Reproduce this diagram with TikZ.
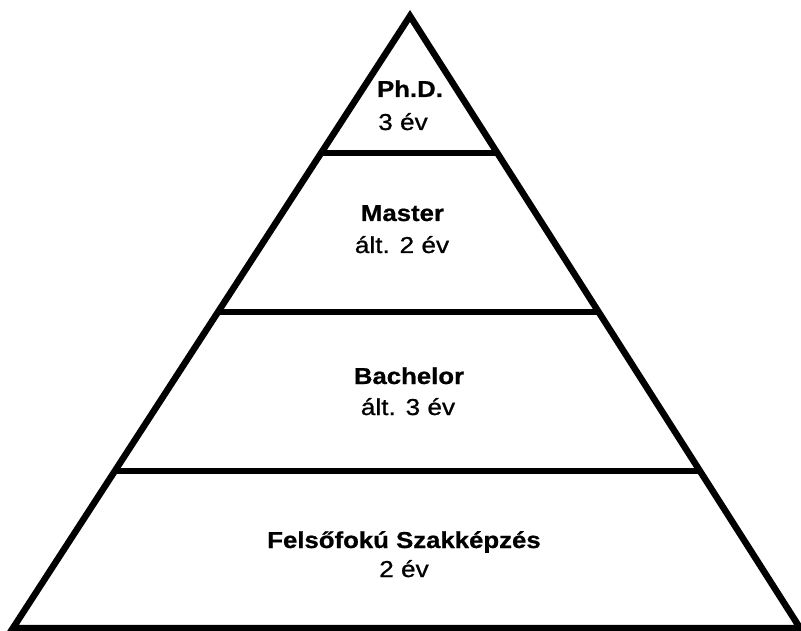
\documentclass[tikz,border=0pt]{standalone}
\usepackage{fontspec}
\setmainfont{Liberation Sans}
\newfontfamily\labfont[FakeStretch=1.14]{Liberation Sans}
\newfontfamily\labfontb[FakeStretch=1.12,FakeBold=0.8]{Liberation Sans Bold}
\newfontfamily\labfontr[FakeStretch=1.14,FakeBold=0.9]{Liberation Sans}
\usetikzlibrary{calc}
\tikzset{
  edge/.style={draw=black, line width=6.5pt, line join=miter},
  tierline/.style={draw=black, line width=6.5pt},
  title/.style={anchor=base, inner sep=0pt, font=\labfontb\fontsize{23}{27}\selectfont},
  sub/.style={anchor=base, inner sep=0pt, font=\labfontr\fontsize{23}{27}\selectfont}
}
\begin{document}
\begin{tikzpicture}[x=1pt,y=-1pt]
\useasboundingbox (0,0) rectangle (801,631);
\fill[white] (0,0) rectangle (801,631);
\coordinate (A) at (410,16);
\coordinate (L) at (13,628);
\coordinate (R) at (800,628);
\draw[edge] (A) -- (L) -- (R) -- cycle;
% tier separators
\coordinate (l1) at ($(A)!0.2238!(L)$);
\coordinate (r1) at ($(A)!0.2238!(R)$);
\coordinate (l2) at ($(A)!0.4837!(L)$);
\coordinate (r2) at ($(A)!0.4837!(R)$);
\coordinate (l3) at ($(A)!0.7435!(L)$);
\coordinate (r3) at ($(A)!0.7435!(R)$);
\draw[tierline] (l1) -- (r1);
\draw[tierline] (l2) -- (r2);
\draw[tierline] (l3) -- (r3);
% labels
\node[title] (phd) at (410,97) {Ph.D.};
\node[sub] (phdy) at (403,130) {3 év};
\node[title] (mas) at (402.5,221) {Master};
\node[sub] (masy) at (402,253) {ált. 2 év};
\node[title] (bac) at (409,384) {Bachelor};
\node[sub] (bacy) at (408,415) {ált. 3 év};
\node[title] (fel) at (404,548) {Felsőfokú Szakképzés};
\node[sub] (fely) at (404,577) {2 év};
\end{tikzpicture}
\end{document}
